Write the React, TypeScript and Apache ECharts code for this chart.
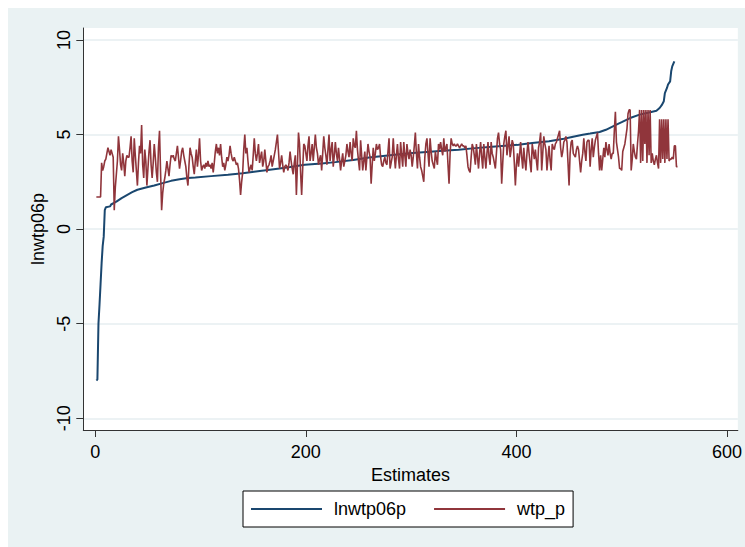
import React, { useEffect, useRef } from "react";
import * as echarts from "echarts";

// x-axis / y-axis tick values
const xTicks = [0, 200, 400, 600];
const yTicks = [-10, -5, 0, 5, 10];

// lnwtp06p (sorted estimates): observation index and value
const lnIdx = [1, 2, 3, 4, 5, 6, 7, 8, 9, 10, 14, 15, 20, 25, 30, 35, 40, 48, 56, 64, 72, 80, 88, 95, 110, 126, 140, 158, 175, 185, 199, 215, 228, 245, 260, 280, 301, 315, 330, 345, 361, 380, 402, 415, 431, 445, 455, 463, 470, 479, 485, 495, 500, 508, 517, 525, 533, 536, 538, 540, 541, 543, 544, 546, 547, 548, 550];
const lnVal = [-8.0, -7.95, -5.0, -4.0, -2.9, -1.8, -0.9, -0.4, 1.0, 1.15, 1.2, 1.3, 1.45, 1.64, 1.8, 1.95, 2.08, 2.2, 2.3, 2.43, 2.55, 2.63, 2.7, 2.73, 2.8, 2.87, 2.95, 3.08, 3.2, 3.28, 3.4, 3.47, 3.54, 3.65, 3.79, 3.9, 4.02, 4.08, 4.14, 4.2, 4.28, 4.37, 4.46, 4.55, 4.64, 4.78, 4.9, 4.99, 5.05, 5.13, 5.25, 5.52, 5.65, 5.87, 6.05, 6.15, 6.26, 6.4, 6.55, 6.76, 7.19, 7.46, 7.64, 7.81, 8.34, 8.6, 8.87];

// wtp_p, observations 1..553
const wtpP = [
  1.7, 1.7, 1.7, 1.7, 1.7, 3.5, 3.1, 3.3, 3.6, 3.7,
  4.0, 4.3, 4.1, 3.9, 4.2, 4.0, 3.8, 1.0, 2.2, 2.9,
  3.6, 4.9, 4.2, 3.4, 3.1, 4.0, 3.5, 2.8, 3.6, 3.9,
  3.8, 3.8, 4.3, 4.9, 3.6, 3.0, 4.8, 3.9, 3.1, 2.3,
  3.5, 4.4, 4.0, 5.5, 3.4, 2.7, 4.2, 3.6, 2.3, 3.2,
  4.1, 4.7, 3.4, 2.7, 3.5, 4.5, 3.8, 3.0, 2.5, 4.3,
  5.2, 3.0, 1.0, 1.9, 2.4, 2.7, 3.1, 3.6, 3.2, 2.8,
  3.4, 3.9, 3.8, 3.9, 3.7, 3.6, 4.0, 4.4, 3.8, 3.2,
  3.6, 4.1, 4.3, 3.9, 3.6, 3.3, 2.7, 2.3, 3.4, 4.3,
  4.0, 3.8, 3.3, 2.9, 3.6, 4.2, 3.3, 3.9, 4.8, 3.6,
  3.1, 3.3, 3.4, 3.2, 3.5, 3.3, 3.6, 3.3, 3.4, 3.2,
  3.5, 3.0, 3.5, 4.1, 4.5, 4.0, 4.3, 3.9, 4.5, 3.8,
  3.3, 3.5, 3.1, 3.4, 3.8, 3.6, 3.9, 4.4, 4.0, 3.7,
  3.6, 3.8, 3.6, 3.4, 3.5, 3.2, 2.6, 1.8, 2.5, 3.0,
  4.2, 5.0, 4.0, 4.3, 3.6, 3.0, 3.2, 3.4, 3.1, 3.9,
  4.8, 4.0, 3.6, 4.0, 4.5, 3.5, 3.8, 4.1, 3.3, 3.6,
  4.2, 3.6, 3.0, 3.3, 3.4, 3.6, 3.9, 3.3, 3.6, 3.9,
  4.2, 4.6, 5.0, 4.1, 3.2, 3.5, 3.9, 3.4, 3.0, 3.3,
  3.4, 3.3, 3.1, 3.5, 4.1, 3.6, 3.2, 2.9, 3.5, 3.9,
  1.8, 3.4, 5.1, 4.5, 3.0, 1.8, 3.2, 4.5, 4.4, 4.0,
  3.6, 4.4, 4.9, 3.6, 4.0, 4.5, 3.6, 4.3, 5.0, 4.3,
  4.0, 3.4, 3.7, 3.9, 3.1, 4.0, 4.9, 4.3, 3.9, 3.4,
  4.2, 5.0, 3.6, 4.2, 4.6, 3.3, 3.9, 4.6, 4.0, 3.6,
  4.3, 3.7, 3.1, 3.6, 4.0, 3.3, 3.6, 3.9, 4.5, 4.1,
  3.8, 4.6, 4.0, 3.6, 4.8, 4.4, 4.3, 5.2, 4.2, 3.6,
  3.1, 4.7, 3.9, 3.1, 3.6, 4.1, 3.1, 3.8, 4.5, 4.1,
  3.8, 2.4, 3.4, 4.3, 3.6, 4.0, 4.5, 4.2, 4.3, 4.5,
  3.8, 3.4, 3.3, 3.6, 3.8, 3.5, 3.4, 4.1, 4.8, 3.2,
  3.5, 3.8, 4.8, 3.9, 3.2, 3.9, 4.5, 3.7, 3.2, 4.6,
  3.9, 3.3, 4.6, 3.9, 3.3, 4.5, 4.0, 3.7, 4.2, 3.9,
  3.3, 3.8, 4.4, 5.1, 4.0, 3.2, 4.5, 3.8, 3.3, 3.1,
  2.8, 2.5, 3.8, 4.5, 4.8, 4.0, 3.3, 4.8, 4.1, 3.6,
  3.4, 3.2, 4.1, 3.7, 3.4, 4.5, 4.2, 4.6, 4.2, 3.9,
  4.8, 4.1, 4.3, 4.5, 3.4, 2.4, 4.0, 4.8, 4.5, 4.4,
  4.5, 4.4, 4.4, 4.5, 4.4, 4.3, 4.4, 4.5, 4.4, 4.4,
  4.3, 4.4, 3.9, 3.3, 3.1, 3.0, 3.8, 4.5, 4.3, 3.9,
  3.4, 4.5, 3.8, 3.2, 4.0, 4.6, 3.8, 3.2, 4.5, 3.8,
  3.2, 4.0, 4.6, 3.8, 3.4, 4.6, 4.0, 3.8, 3.5, 3.2,
  4.0, 4.8, 5.1, 4.5, 4.2, 2.4, 3.5, 4.5, 4.9, 5.2,
  3.9, 4.4, 4.9, 3.8, 4.2, 4.7, 4.5, 3.5, 2.3, 3.4,
  4.0, 3.3, 3.9, 4.6, 3.8, 3.2, 4.3, 3.6, 3.1, 4.0,
  4.6, 4.0, 3.5, 3.0, 4.5, 4.1, 3.7, 4.2, 3.6, 3.1,
  4.3, 4.6, 5.1, 3.1, 4.0, 4.9, 4.5, 4.2, 3.1, 3.8,
  4.4, 3.6, 3.1, 4.5, 4.3, 4.2, 4.5, 4.6, 4.8, 5.0,
  5.2, 4.3, 3.8, 4.1, 4.6, 4.7, 4.9, 4.6, 3.5, 2.3,
  4.0, 4.6, 4.7, 4.0, 3.9, 3.8, 4.2, 4.4, 4.2, 3.6,
  3.0, 3.6, 4.0, 4.8, 4.1, 3.6, 4.6, 4.7, 4.7, 3.3,
  4.2, 4.8, 3.8, 4.3, 4.7, 4.9, 5.1, 4.0, 3.1, 3.9,
  3.1, 3.7, 4.3, 3.8, 4.6, 4.2, 3.9, 4.5, 4.0, 3.7,
  4.0, 4.0, 5.2, 6.2, 4.6, 4.2, 3.8, 3.2, 3.2, 3.1,
  4.1, 4.3, 4.5, 4.9, 5.3, 6.1, 6.3, 6.3, 3.1, 3.7,
  4.5, 4.1, 3.8, 3.7, 4.5, 5.2, 6.3, 3.5, 6.3, 3.6,
  6.3, 4.5, 6.3, 3.5, 6.3, 3.9, 6.3, 3.5, 4.0, 3.6,
  3.4, 3.7, 3.9, 3.5, 3.2, 5.8, 3.5, 5.8, 3.7, 5.8,
  3.5, 5.8, 3.7, 5.8, 3.6, 3.7, 3.7, 3.8, 3.7, 4.4,
  4.4, 3.3, 3.3,
];

const seriesNames = ["lnwtp06p", "wtp_p"];

const FONT = "'Liberation Sans', Arial, Helvetica, sans-serif";
const BG = "#eaf2f3";

export default function App() {
  const ref = useRef<HTMLDivElement>(null);

  useEffect(() => {
    if (!ref.current) return;
    const chart = echarts.init(ref.current, null, { renderer: "svg" });
    const lnData = lnIdx.map((x, i) => [x, lnVal[i]]);
    const wtpData = wtpP.map((v, i) => [i + 1, v]);

    chart.setOption({
      animation: false,
      backgroundColor: BG,
      textStyle: { fontFamily: FONT },
      grid: {
        show: true,
        left: 75.3,
        top: 20,
        right: 7,
        bottom: 117,
        backgroundColor: "#ffffff",
        borderWidth: 0,
        containLabel: false,
      },
      legend: {
        data: seriesNames,
        left: 235,
        top: 483,
        orient: "horizontal",
        icon: "rect",
        itemWidth: 71,
        itemHeight: 2,
        itemGap: 28,
        padding: [9, 8, 9, 8],
        backgroundColor: "#ffffff",
        borderColor: "#000000",
        borderWidth: 1,
        borderRadius: 0,
        textStyle: {
          fontFamily: FONT,
          fontSize: 18,
          color: "#000000",
          padding: [0, 0, 0, 7],
        },
      },
      xAxis: {
        type: "value",
        min: -11.4,
        max: 610.3,
        name: "Estimates",
        nameLocation: "middle",
        nameGap: 30,
        nameTextStyle: { fontFamily: FONT, fontSize: 18, color: "#000000" },
        axisLine: { show: true, onZero: false, lineStyle: { color: "#333333", width: 1 } },
        axisTick: {
          show: true,
          customValues: xTicks,
          length: 7,
          lineStyle: { color: "#333333", width: 1 },
        },
        axisLabel: {
          customValues: xTicks,
          fontFamily: FONT,
          fontSize: 18,
          color: "#000000",
          margin: 13,
        },
        splitLine: { show: false },
      },
      yAxis: {
        type: "value",
        min: -10.62,
        max: 10.63,
        name: "lnwtp06p",
        nameLocation: "middle",
        nameRotate: 90,
        nameGap: 35,
        nameTextStyle: { fontFamily: FONT, fontSize: 18, color: "#000000" },
        axisLine: { show: true, onZero: false, lineStyle: { color: "#333333", width: 1 } },
        axisTick: {
          show: true,
          customValues: yTicks,
          length: 7,
          lineStyle: { color: "#333333", width: 1 },
        },
        axisLabel: {
          customValues: yTicks,
          rotate: 90,
          fontFamily: FONT,
          fontSize: 18,
          color: "#000000",
          margin: 10,
        },
        splitLine: { show: true, lineStyle: { color: "#e6eef1", width: 1.6 } },
      },
      series: [
        {
          name: seriesNames[0],
          type: "line",
          data: lnData,
          symbol: "none",
          showSymbol: false,
          lineStyle: { color: "#1a476f", width: 2 },
          itemStyle: { color: "#1a476f" },
          z: 2,
        },
        {
          name: seriesNames[1],
          type: "line",
          data: wtpData,
          symbol: "none",
          showSymbol: false,
          lineStyle: { color: "#90353b", width: 1.6 },
          itemStyle: { color: "#90353b" },
          z: 3,
        },
      ],
    });

    return () => chart.dispose();
  }, []);

  return (
    <div
      ref={ref}
      style={{ position: "fixed", left: 8, top: 8, width: 737, height: 539 }}
    />
  );
}
